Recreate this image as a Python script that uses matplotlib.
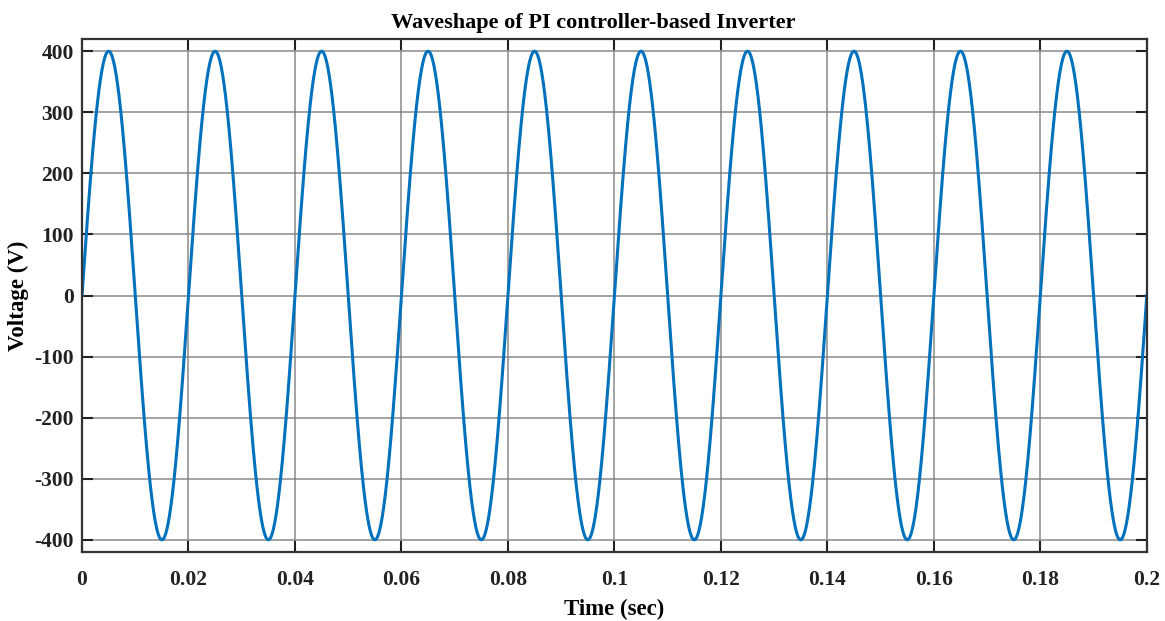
import numpy as np
import matplotlib.pyplot as plt

# inverter output: 50 Hz sine, 400 V peak, 0..0.2 s
amplitude = 400
freq = 50
t_end = 0.2
xticks = [0, 0.02, 0.04, 0.06, 0.08, 0.1, 0.12, 0.14, 0.16, 0.18, 0.2]
xticklabels = ['0', '0.02', '0.04', '0.06', '0.08', '0.1', '0.12', '0.14', '0.16', '0.18', '0.2']
yticks = [-400, -300, -200, -100, 0, 100, 200, 300, 400]

t = np.linspace(0, t_end, 4001)
v = amplitude*np.sin(2*np.pi*freq*t)

plt.rcParams['font.family'] = ['Liberation Serif', 'DejaVu Serif']
plt.rcParams['font.weight'] = 'bold'
plt.rcParams['axes.unicode_minus'] = False

fig = plt.figure(figsize=(11.65, 6.21), dpi=100)
ax = fig.add_axes([0.0704, 0.1111, 0.914, 0.8261])
ax.plot(t, v, color='#0072BD', lw=2.2)

ax.set_xlim(0, t_end)
ax.set_ylim(-420, 420)
ax.set_xticks(xticks)
ax.set_xticklabels(xticklabels)
ax.set_yticks(yticks)
ax.grid(True, color='#808080', lw=1.2, alpha=0.85)
ax.tick_params(direction='in', length=8, width=1.5, top=True, right=True,
               labelsize=15.5, colors='#222222')
ax.tick_params(axis='y', pad=6)
ax.tick_params(axis='x', pad=13)
for s in ax.spines.values():
    s.set_linewidth(1.6)
    s.set_color('#333333')

ax.set_title('Waveshape of PI controller-based Inverter', fontsize=16, fontweight='bold',
             pad=8, x=0.48)
ax.set_xlabel('Time (sec)', fontsize=16.5, fontweight='bold', labelpad=6)
ax.set_ylabel('Voltage (V)', fontsize=16.5, fontweight='bold', labelpad=4)

plt.savefig('out.png', dpi=100)
